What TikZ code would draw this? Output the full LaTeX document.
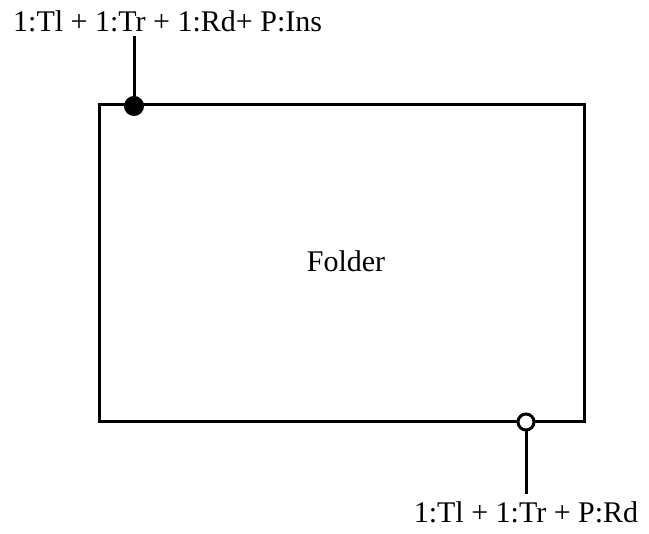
\documentclass[tikz,border=0pt]{standalone}
\usepackage{fontspec}
\setmainfont{Liberation Serif}
\usetikzlibrary{positioning}

\begin{document}
\begin{tikzpicture}[
  x=1pt, y=-1pt,
  box/.style={draw, line width=3pt, minimum width=485pt, minimum height=317pt, inner sep=0pt},
  lbl/.style={font=\fontsize{30}{36}\selectfont, inner sep=0pt},
  full/.style={circle, fill=black, draw=black, line width=1pt, minimum size=19pt, inner sep=0pt},
  hollow/.style={circle, fill=white, draw=black, line width=3pt, minimum size=16pt, inner sep=0pt},
  wire/.style={line width=3pt}
]
\useasboundingbox (0,0) rectangle (649,534);

% Folder box
\node[box] (folder) at (341.5,263.5) {};
\node[lbl, anchor=base] (name) at (346,272) {Folder};

% top end
\coordinate (topend) at (134,36);
\node[lbl, anchor=base west] (toplbl) at (13,32) {1:Tl + 1:Tr + 1:Rd+ P:Ins};

% bottom end
\coordinate (botend) at (526,494);
\node[lbl, anchor=base] (botlbl) at (526,523) {1:Tl + 1:Tr + P:Rd};

\draw[wire] (134,106) -- (topend);
\draw[wire] (526,422) -- (botend);
\node[full] (topdot) at (134,106) {};
\node[hollow] (botdot) at (526,422) {};
\end{tikzpicture}
\end{document}
